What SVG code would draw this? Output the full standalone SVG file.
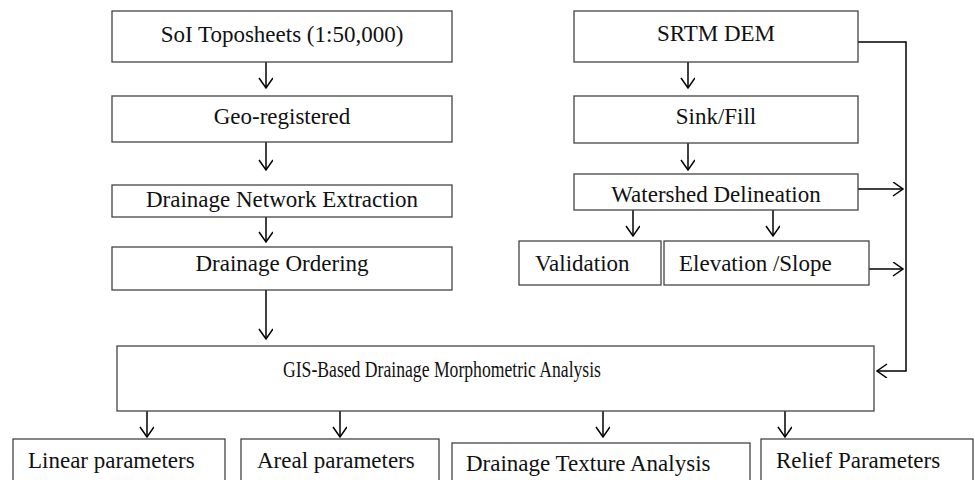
<svg xmlns="http://www.w3.org/2000/svg" width="975" height="480" viewBox="0 0 975 480">
<style>
.box{fill:#fff;stroke:#444;stroke-width:1.3}
.t{font-family:"Liberation Serif","Times New Roman",serif;font-size:23px;fill:#111}
.c{stroke:#000;stroke-width:1.5;fill:none}
</style>
<defs>
<marker id="ah" markerWidth="16" markerHeight="16" refX="11" refY="7" orient="auto" markerUnits="userSpaceOnUse">
<path d="M1,0 L11,7 L1,14" fill="none" stroke="#000" stroke-width="1.5"/>
</marker>
</defs>
<rect width="975" height="480" fill="#fff"/>
<g id="connectors">
<path class="c" d="M266,62 V88" marker-end="url(#ah)"/>
<path class="c" d="M266,142 V170" marker-end="url(#ah)"/>
<path class="c" d="M266,217 V242" marker-end="url(#ah)"/>
<path class="c" d="M266,290 V339" marker-end="url(#ah)"/>
<path class="c" d="M688,62 V88" marker-end="url(#ah)"/>
<path class="c" d="M688,143 V170" marker-end="url(#ah)"/>
<path class="c" d="M633,210 V236" marker-end="url(#ah)"/>
<path class="c" d="M773,210 V236" marker-end="url(#ah)"/>
<path class="c" d="M858,189 H903" marker-end="url(#ah)"/>
<path class="c" d="M869,269 H903" marker-end="url(#ah)"/>
<path class="c" d="M858,42 H906 V371 H877" marker-end="url(#ah)"/>
<path class="c" d="M147,411 V437" marker-end="url(#ah)"/>
<path class="c" d="M340,411 V437" marker-end="url(#ah)"/>
<path class="c" d="M603,411 V437" marker-end="url(#ah)"/>
<path class="c" d="M785,411 V437" marker-end="url(#ah)"/>
</g>
<g id="soi"><rect class="box" x="112" y="11" width="340" height="51"/><text class="t" x="282" y="42" text-anchor="middle">SoI Toposheets (1:50,000)</text></g>
<g id="geo"><rect class="box" x="112" y="96" width="340" height="46"/><text class="t" x="282" y="124" text-anchor="middle">Geo-registered</text></g>
<g id="dne"><rect class="box" x="112" y="185" width="340" height="32"/><text class="t" x="282" y="207" text-anchor="middle">Drainage Network Extraction</text></g>
<g id="dord"><rect class="box" x="112" y="247" width="340" height="43"/><text class="t" x="282" y="271" text-anchor="middle">Drainage Ordering</text></g>
<g id="srtm"><rect class="box" x="574" y="11" width="284" height="51"/><text class="t" x="716" y="41" text-anchor="middle">SRTM DEM</text></g>
<g id="sink"><rect class="box" x="574" y="96" width="284" height="47"/><text class="t" x="716" y="124" text-anchor="middle">Sink/Fill</text></g>
<g id="ws"><rect class="box" x="574" y="174" width="284" height="36"/><text class="t" x="716" y="202" text-anchor="middle">Watershed Delineation</text></g>
<g id="val"><rect class="box" x="519" y="241" width="142" height="44"/><text class="t" x="535" y="271">Validation</text></g>
<g id="elev"><rect class="box" x="664" y="241" width="205" height="44"/><text class="t" x="679" y="271">Elevation /Slope</text></g>
<g id="gis"><rect class="box" x="117" y="346" width="757" height="65"/><text class="t" x="283" y="377" textLength="318" lengthAdjust="spacingAndGlyphs">GIS-Based Drainage Morphometric Analysis</text></g>
<g id="linear"><rect class="box" x="13" y="439" width="212" height="50"/><text class="t" x="28" y="468">Linear parameters</text></g>
<g id="areal"><rect class="box" x="241" y="439" width="198" height="50"/><text class="t" x="257" y="468">Areal parameters</text></g>
<g id="texture"><rect class="box" x="452" y="443" width="298" height="50"/><text class="t" x="466" y="471">Drainage Texture Analysis</text></g>
<g id="relief"><rect class="box" x="761" y="439" width="212" height="50"/><text class="t" x="776" y="468">Relief Parameters</text></g>
</svg>
